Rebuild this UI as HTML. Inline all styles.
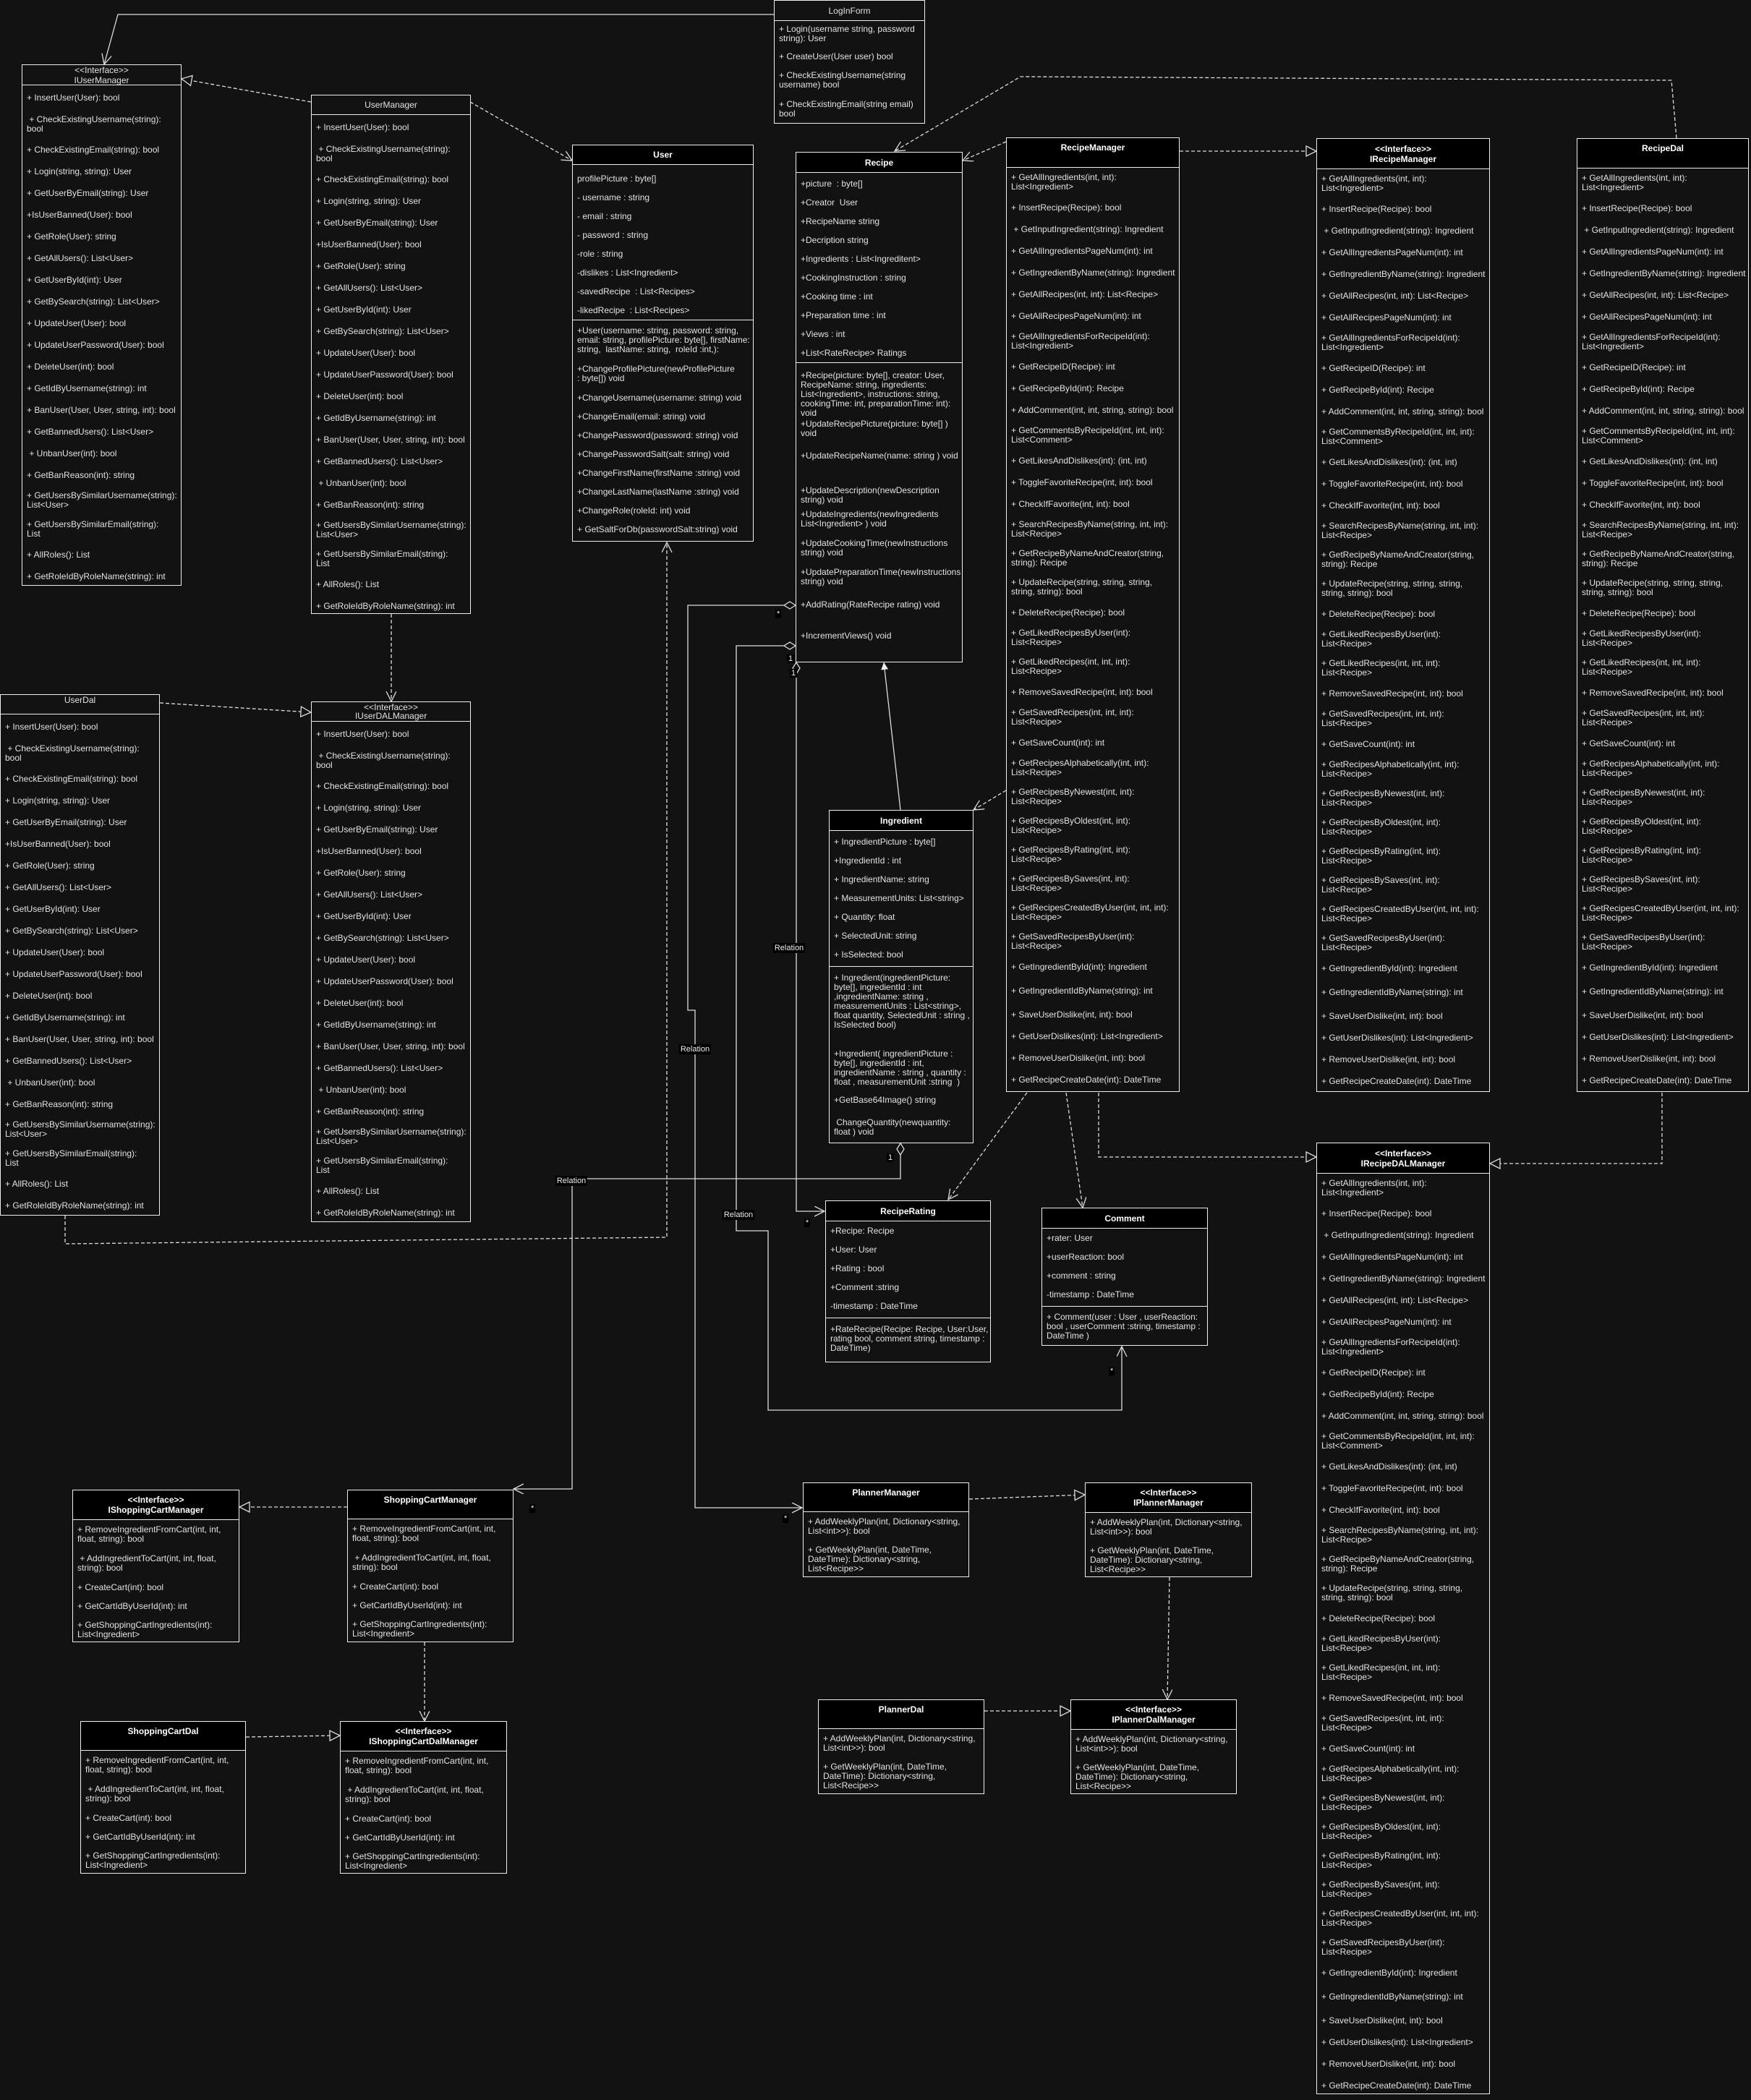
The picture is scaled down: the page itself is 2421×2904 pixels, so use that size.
<!DOCTYPE html>
<html><head><meta charset="utf-8"><style>
html,body{margin:0;padding:0;background:#121212;}
#c{position:relative;width:2421px;height:2904px;overflow:hidden;background:#121212;font-family:"Liberation Sans",Arial,sans-serif;font-size:12px;color:#e2e2e2;}
.b{position:absolute;border:1px solid #eee;background:#121212;box-sizing:border-box;display:flex;flex-direction:column;}
.h{border-bottom:1px solid #eee;display:flex;align-items:center;justify-content:center;text-align:center;line-height:14px;flex:none;}
.k{background:#000;font-weight:bold;color:#fff;}
.t{align-items:flex-start;padding-top:6px;box-sizing:border-box;}
.r{height:30px;display:flex;align-items:center;padding:0 6px;white-space:nowrap;line-height:13px;flex:none;}
.d{height:40px;}
.s{height:26px;}
.sep{border-top:1px solid #eee;flex:none;}
.lb{position:absolute;background:#000;color:#eee;font-size:11px;padding:1px 2px;transform:translate(-50%,-50%);}
.m{position:absolute;background:#000;color:#eee;font-size:11px;padding:0 2px;}
svg{position:absolute;left:0;top:0;}
</style></head><body><div id="c">

<!-- LoginForm -->
<div class="b" style="left:1070px;top:0;width:209px;height:171px">
<div class="h" style="height:27px">LogInForm</div>
<div class="r" style="height:36px"><span>+ Login(username string, password<br>string): User</span></div>
<div class="r" style="height:26px">+ CreateUser(User user) bool</div>
<div class="r d"><span>+ CheckExistingUsername(string<br>username) bool</span></div>
<div class="r d"><span>+ CheckExistingEmail(string email)<br>bool</span></div>
</div>

<!-- IUserManager -->
<div class="b" style="left:30px;top:89px;width:221px;height:721px">
<div class="h" style="height:27px"><span>&lt;&lt;Interface&gt;&gt;<br>IUserManager</span></div>
<div class="r" style="height:34px">+ InsertUser(User): bool</div>
<div class="r d"><span>&nbsp;+ CheckExistingUsername(string):<br>bool</span></div>
<div class="r">+ CheckExistingEmail(string): bool</div>
<div class="r">+ Login(string, string): User</div>
<div class="r">+ GetUserByEmail(string): User</div>
<div class="r">+IsUserBanned(User): bool</div>
<div class="r">+ GetRole(User): string</div>
<div class="r">+ GetAllUsers(): List&lt;User&gt;</div>
<div class="r">+ GetUserById(int): User</div>
<div class="r">+ GetBySearch(string): List&lt;User&gt;</div>
<div class="r">+ UpdateUser(User): bool</div>
<div class="r">+ UpdateUserPassword(User): bool</div>
<div class="r">+ DeleteUser(int): bool</div>
<div class="r">+ GetIdByUsername(string): int</div>
<div class="r">+ BanUser(User, User, string, int): bool</div>
<div class="r">+ GetBannedUsers(): List&lt;User&gt;</div>
<div class="r">&nbsp;+ UnbanUser(int): bool</div>
<div class="r">+ GetBanReason(int): string</div>
<div class="r d"><span>+ GetUsersBySimilarUsername(string):<br>List&lt;User&gt;</span></div>
<div class="r d"><span>+ GetUsersBySimilarEmail(string):<br>List</span></div>
<div class="r">+ AllRoles(): List</div>
<div class="r">+ GetRoleIdByRoleName(string): int</div>
</div>

<!-- UserManager -->
<div class="b" style="left:430px;top:131px;width:221px;height:718px">
<div class="h" style="height:26px">UserManager</div>
<div class="r" style="height:34px">+ InsertUser(User): bool</div>
<div class="r d"><span>&nbsp;+ CheckExistingUsername(string):<br>bool</span></div>
<div class="r">+ CheckExistingEmail(string): bool</div>
<div class="r">+ Login(string, string): User</div>
<div class="r">+ GetUserByEmail(string): User</div>
<div class="r">+IsUserBanned(User): bool</div>
<div class="r">+ GetRole(User): string</div>
<div class="r">+ GetAllUsers(): List&lt;User&gt;</div>
<div class="r">+ GetUserById(int): User</div>
<div class="r">+ GetBySearch(string): List&lt;User&gt;</div>
<div class="r">+ UpdateUser(User): bool</div>
<div class="r">+ UpdateUserPassword(User): bool</div>
<div class="r">+ DeleteUser(int): bool</div>
<div class="r">+ GetIdByUsername(string): int</div>
<div class="r">+ BanUser(User, User, string, int): bool</div>
<div class="r">+ GetBannedUsers(): List&lt;User&gt;</div>
<div class="r">&nbsp;+ UnbanUser(int): bool</div>
<div class="r">+ GetBanReason(int): string</div>
<div class="r d"><span>+ GetUsersBySimilarUsername(string):<br>List&lt;User&gt;</span></div>
<div class="r d"><span>+ GetUsersBySimilarEmail(string):<br>List</span></div>
<div class="r">+ AllRoles(): List</div>
<div class="r">+ GetRoleIdByRoleName(string): int</div>
</div>

<!-- UserDal -->
<div class="b" style="left:0;top:960px;width:221px;height:721px">
<div class="h" style="height:26px;align-items:flex-start">UserDal</div>
<div class="r" style="height:34px">+ InsertUser(User): bool</div>
<div class="r d"><span>&nbsp;+ CheckExistingUsername(string):<br>bool</span></div>
<div class="r">+ CheckExistingEmail(string): bool</div>
<div class="r">+ Login(string, string): User</div>
<div class="r">+ GetUserByEmail(string): User</div>
<div class="r">+IsUserBanned(User): bool</div>
<div class="r">+ GetRole(User): string</div>
<div class="r">+ GetAllUsers(): List&lt;User&gt;</div>
<div class="r">+ GetUserById(int): User</div>
<div class="r">+ GetBySearch(string): List&lt;User&gt;</div>
<div class="r">+ UpdateUser(User): bool</div>
<div class="r">+ UpdateUserPassword(User): bool</div>
<div class="r">+ DeleteUser(int): bool</div>
<div class="r">+ GetIdByUsername(string): int</div>
<div class="r">+ BanUser(User, User, string, int): bool</div>
<div class="r">+ GetBannedUsers(): List&lt;User&gt;</div>
<div class="r">&nbsp;+ UnbanUser(int): bool</div>
<div class="r">+ GetBanReason(int): string</div>
<div class="r d"><span>+ GetUsersBySimilarUsername(string):<br>List&lt;User&gt;</span></div>
<div class="r d"><span>+ GetUsersBySimilarEmail(string):<br>List</span></div>
<div class="r">+ AllRoles(): List</div>
<div class="r">+ GetRoleIdByRoleName(string): int</div>
</div>

<!-- IUserDALManager -->
<div class="b" style="left:430px;top:970px;width:221px;height:720px">
<div class="h" style="height:26px;line-height:12px"><span>&lt;&lt;Interface&gt;&gt;<br>IUserDALManager</span></div>
<div class="r" style="height:34px">+ InsertUser(User): bool</div>
<div class="r d"><span>&nbsp;+ CheckExistingUsername(string):<br>bool</span></div>
<div class="r">+ CheckExistingEmail(string): bool</div>
<div class="r">+ Login(string, string): User</div>
<div class="r">+ GetUserByEmail(string): User</div>
<div class="r">+IsUserBanned(User): bool</div>
<div class="r">+ GetRole(User): string</div>
<div class="r">+ GetAllUsers(): List&lt;User&gt;</div>
<div class="r">+ GetUserById(int): User</div>
<div class="r">+ GetBySearch(string): List&lt;User&gt;</div>
<div class="r">+ UpdateUser(User): bool</div>
<div class="r">+ UpdateUserPassword(User): bool</div>
<div class="r">+ DeleteUser(int): bool</div>
<div class="r">+ GetIdByUsername(string): int</div>
<div class="r">+ BanUser(User, User, string, int): bool</div>
<div class="r">+ GetBannedUsers(): List&lt;User&gt;</div>
<div class="r">&nbsp;+ UnbanUser(int): bool</div>
<div class="r">+ GetBanReason(int): string</div>
<div class="r d"><span>+ GetUsersBySimilarUsername(string):<br>List&lt;User&gt;</span></div>
<div class="r d"><span>+ GetUsersBySimilarEmail(string):<br>List</span></div>
<div class="r">+ AllRoles(): List</div>
<div class="r">+ GetRoleIdByRoleName(string): int</div>
</div>

<!-- User -->
<div class="b" style="left:791px;top:200px;width:251px;height:549px">
<div class="h k" style="height:26px">User</div>
<div style="height:6px;flex:none"></div>
<div class="r s">profilePicture : byte[]</div>
<div class="r s">- username : string</div>
<div class="r s">- email : string</div>
<div class="r s">- password : string</div>
<div class="r s">-role : string</div>
<div class="r s">-dislikes : List&lt;Ingredient&gt;</div>
<div class="r s">-savedRecipe &nbsp;: List&lt;Recipes&gt;</div>
<div class="r s">-likedRecipe &nbsp;: List&lt;Recipes&gt;</div>
<div class="sep" style="margin-top:0"></div>
<div class="r" style="height:54px"><span>+User(username: string, password: string,<br>email: string, profilePicture: byte[], firstName:<br>string, &nbsp;lastName: string, &nbsp;roleId :int,):</span></div>
<div class="r" style="height:40px"><span>+ChangeProfilePicture(newProfilePicture<br>: byte[]) void</span></div>
<div class="r s">+ChangeUsername(username: string) void</div>
<div class="r s">+ChangeEmail(email: string) void</div>
<div class="r s">+ChangePassword(password: string) void</div>
<div class="r s">+ChangePasswordSalt(salt: string) void</div>
<div class="r s">+ChangeFirstName(firstName :string) void</div>
<div class="r s">+ChangeLastName(lastName :string) void</div>
<div class="r s">+ChangeRole(roleId: int) void</div>
<div class="r s">+ GetSaltForDb(passwordSalt:string) void</div>
</div>

<!-- Recipe -->
<div class="b" style="left:1100px;top:210px;width:231px;height:706px">
<div class="h k" style="height:27px">Recipe</div>
<div style="height:2px;flex:none"></div>
<div class="r s">+picture &nbsp;: byte[]</div>
<div class="r s">+Creator &nbsp;User</div>
<div class="r s">+RecipeName string</div>
<div class="r s">+Decription string</div>
<div class="r s">+Ingredients : List&lt;Ingreditent&gt;</div>
<div class="r s">+CookingInstruction : string</div>
<div class="r s">+Cooking time : int</div>
<div class="r s">+Preparation time : int</div>
<div class="r s">+Views : int</div>
<div class="r s">+List&lt;RateRecipe&gt; Ratings</div>
<div class="sep" style="margin-top:0"></div>
<div class="r" style="height:76px;align-items:flex-end"><span>+Recipe(picture: byte[], creator: User,<br>RecipeName: string, ingredients:<br>List&lt;Ingredient&gt;, instructions: string,<br>cookingTime: int, preparationTime: int):<br>void</span></div>
<div class="r" style="height:30px"><span>+UpdateRecipePicture(picture: byte[] )<br>void</span></div>
<div class="r" style="height:44px">+UpdateRecipeName(name: string ) void</div>
<div class="r" style="height:46px;align-items:flex-end"><span>+UpdateDescription(newDescription<br>string) void</span></div>
<div class="r d"><span>+UpdateIngredients(newIngredients<br>List&lt;Ingredient&gt; ) void</span></div>
<div class="r d"><span>+UpdateCookingTime(newInstructions<br>string) void</span></div>
<div class="r d"><span>+UpdatePreparationTime(newInstructions<br>string) void</span></div>
<div class="r" style="height:36px">+AddRating(RateRecipe rating) void</div>
<div class="r" style="height:50px">+IncrementViews() void</div>
</div>

<!-- RecipeManager -->
<div class="b" style="left:1391px;top:190px;width:240px;height:1320px">
<div class="h k t" style="height:41px">RecipeManager</div>
<div class="r d"><span>+ GetAllIngredients(int, int):<br>List&lt;Ingredient&gt;</span></div>
<div class="r">+ InsertRecipe(Recipe): bool</div>
<div class="r">&nbsp;+ GetInputIngredient(string): Ingredient</div>
<div class="r">+ GetAllIngredientsPageNum(int): int</div>
<div class="r">+ GetIngredientByName(string): Ingredient</div>
<div class="r">+ GetAllRecipes(int, int): List&lt;Recipe&gt;</div>
<div class="r">+ GetAllRecipesPageNum(int): int</div>
<div class="r d"><span>+ GetAllIngredientsForRecipeId(int):<br>List&lt;Ingredient&gt;</span></div>
<div class="r">+ GetRecipeID(Recipe): int</div>
<div class="r">+ GetRecipeById(int): Recipe</div>
<div class="r">+ AddComment(int, int, string, string): bool</div>
<div class="r d"><span>+ GetCommentsByRecipeId(int, int, int):<br>List&lt;Comment&gt;</span></div>
<div class="r">+ GetLikesAndDislikes(int): (int, int)</div>
<div class="r">+ ToggleFavoriteRecipe(int, int): bool</div>
<div class="r">+ CheckIfFavorite(int, int): bool</div>
<div class="r d"><span>+ SearchRecipesByName(string, int, int):<br>List&lt;Recipe&gt;</span></div>
<div class="r d"><span>+ GetRecipeByNameAndCreator(string,<br>string): Recipe</span></div>
<div class="r d"><span>+ UpdateRecipe(string, string, string,<br>string, string): bool</span></div>
<div class="r">+ DeleteRecipe(Recipe): bool</div>
<div class="r d"><span>+ GetLikedRecipesByUser(int):<br>List&lt;Recipe&gt;</span></div>
<div class="r d"><span>+ GetLikedRecipes(int, int, int):<br>List&lt;Recipe&gt;</span></div>
<div class="r">+ RemoveSavedRecipe(int, int): bool</div>
<div class="r d"><span>+ GetSavedRecipes(int, int, int):<br>List&lt;Recipe&gt;</span></div>
<div class="r">+ GetSaveCount(int): int</div>
<div class="r d"><span>+ GetRecipesAlphabetically(int, int):<br>List&lt;Recipe&gt;</span></div>
<div class="r d"><span>+ GetRecipesByNewest(int, int):<br>List&lt;Recipe&gt;</span></div>
<div class="r d"><span>+ GetRecipesByOldest(int, int):<br>List&lt;Recipe&gt;</span></div>
<div class="r d"><span>+ GetRecipesByRating(int, int):<br>List&lt;Recipe&gt;</span></div>
<div class="r d"><span>+ GetRecipesBySaves(int, int):<br>List&lt;Recipe&gt;</span></div>
<div class="r d"><span>+ GetRecipesCreatedByUser(int, int, int):<br>List&lt;Recipe&gt;</span></div>
<div class="r d"><span>+ GetSavedRecipesByUser(int):<br>List&lt;Recipe&gt;</span></div>
<div class="r">+ GetIngredientById(int): Ingredient</div>
<div class="r" style="height:36px">+ GetIngredientIdByName(string): int</div>
<div class="r">+ SaveUserDislike(int, int): bool</div>
<div class="r">+ GetUserDislikes(int): List&lt;Ingredient&gt;</div>
<div class="r">+ RemoveUserDislike(int, int): bool</div>
<div class="r">+ GetRecipeCreateDate(int): DateTime</div>
</div>

<!-- IRecipeManager -->
<div class="b" style="left:1820px;top:191px;width:240px;height:1319px">
<div class="h k" style="height:41px"><span>&lt;&lt;Interface&gt;&gt;<br>IRecipeManager</span></div>
<div class="r d"><span>+ GetAllIngredients(int, int):<br>List&lt;Ingredient&gt;</span></div>
<div class="r">+ InsertRecipe(Recipe): bool</div>
<div class="r">&nbsp;+ GetInputIngredient(string): Ingredient</div>
<div class="r">+ GetAllIngredientsPageNum(int): int</div>
<div class="r">+ GetIngredientByName(string): Ingredient</div>
<div class="r">+ GetAllRecipes(int, int): List&lt;Recipe&gt;</div>
<div class="r">+ GetAllRecipesPageNum(int): int</div>
<div class="r d"><span>+ GetAllIngredientsForRecipeId(int):<br>List&lt;Ingredient&gt;</span></div>
<div class="r">+ GetRecipeID(Recipe): int</div>
<div class="r">+ GetRecipeById(int): Recipe</div>
<div class="r">+ AddComment(int, int, string, string): bool</div>
<div class="r d"><span>+ GetCommentsByRecipeId(int, int, int):<br>List&lt;Comment&gt;</span></div>
<div class="r">+ GetLikesAndDislikes(int): (int, int)</div>
<div class="r">+ ToggleFavoriteRecipe(int, int): bool</div>
<div class="r">+ CheckIfFavorite(int, int): bool</div>
<div class="r d"><span>+ SearchRecipesByName(string, int, int):<br>List&lt;Recipe&gt;</span></div>
<div class="r d"><span>+ GetRecipeByNameAndCreator(string,<br>string): Recipe</span></div>
<div class="r d"><span>+ UpdateRecipe(string, string, string,<br>string, string): bool</span></div>
<div class="r">+ DeleteRecipe(Recipe): bool</div>
<div class="r d"><span>+ GetLikedRecipesByUser(int):<br>List&lt;Recipe&gt;</span></div>
<div class="r d"><span>+ GetLikedRecipes(int, int, int):<br>List&lt;Recipe&gt;</span></div>
<div class="r">+ RemoveSavedRecipe(int, int): bool</div>
<div class="r d"><span>+ GetSavedRecipes(int, int, int):<br>List&lt;Recipe&gt;</span></div>
<div class="r">+ GetSaveCount(int): int</div>
<div class="r d"><span>+ GetRecipesAlphabetically(int, int):<br>List&lt;Recipe&gt;</span></div>
<div class="r d"><span>+ GetRecipesByNewest(int, int):<br>List&lt;Recipe&gt;</span></div>
<div class="r d"><span>+ GetRecipesByOldest(int, int):<br>List&lt;Recipe&gt;</span></div>
<div class="r d"><span>+ GetRecipesByRating(int, int):<br>List&lt;Recipe&gt;</span></div>
<div class="r d"><span>+ GetRecipesBySaves(int, int):<br>List&lt;Recipe&gt;</span></div>
<div class="r d"><span>+ GetRecipesCreatedByUser(int, int, int):<br>List&lt;Recipe&gt;</span></div>
<div class="r d"><span>+ GetSavedRecipesByUser(int):<br>List&lt;Recipe&gt;</span></div>
<div class="r">+ GetIngredientById(int): Ingredient</div>
<div class="r" style="height:36px">+ GetIngredientIdByName(string): int</div>
<div class="r">+ SaveUserDislike(int, int): bool</div>
<div class="r">+ GetUserDislikes(int): List&lt;Ingredient&gt;</div>
<div class="r">+ RemoveUserDislike(int, int): bool</div>
<div class="r">+ GetRecipeCreateDate(int): DateTime</div>
</div>

<!-- RecipeDal -->
<div class="b" style="left:2180px;top:191px;width:238px;height:1319px">
<div class="h k t" style="height:41px">RecipeDal</div>
<div class="r d"><span>+ GetAllIngredients(int, int):<br>List&lt;Ingredient&gt;</span></div>
<div class="r">+ InsertRecipe(Recipe): bool</div>
<div class="r">&nbsp;+ GetInputIngredient(string): Ingredient</div>
<div class="r">+ GetAllIngredientsPageNum(int): int</div>
<div class="r">+ GetIngredientByName(string): Ingredient</div>
<div class="r">+ GetAllRecipes(int, int): List&lt;Recipe&gt;</div>
<div class="r">+ GetAllRecipesPageNum(int): int</div>
<div class="r d"><span>+ GetAllIngredientsForRecipeId(int):<br>List&lt;Ingredient&gt;</span></div>
<div class="r">+ GetRecipeID(Recipe): int</div>
<div class="r">+ GetRecipeById(int): Recipe</div>
<div class="r">+ AddComment(int, int, string, string): bool</div>
<div class="r d"><span>+ GetCommentsByRecipeId(int, int, int):<br>List&lt;Comment&gt;</span></div>
<div class="r">+ GetLikesAndDislikes(int): (int, int)</div>
<div class="r">+ ToggleFavoriteRecipe(int, int): bool</div>
<div class="r">+ CheckIfFavorite(int, int): bool</div>
<div class="r d"><span>+ SearchRecipesByName(string, int, int):<br>List&lt;Recipe&gt;</span></div>
<div class="r d"><span>+ GetRecipeByNameAndCreator(string,<br>string): Recipe</span></div>
<div class="r d"><span>+ UpdateRecipe(string, string, string,<br>string, string): bool</span></div>
<div class="r">+ DeleteRecipe(Recipe): bool</div>
<div class="r d"><span>+ GetLikedRecipesByUser(int):<br>List&lt;Recipe&gt;</span></div>
<div class="r d"><span>+ GetLikedRecipes(int, int, int):<br>List&lt;Recipe&gt;</span></div>
<div class="r">+ RemoveSavedRecipe(int, int): bool</div>
<div class="r d"><span>+ GetSavedRecipes(int, int, int):<br>List&lt;Recipe&gt;</span></div>
<div class="r">+ GetSaveCount(int): int</div>
<div class="r d"><span>+ GetRecipesAlphabetically(int, int):<br>List&lt;Recipe&gt;</span></div>
<div class="r d"><span>+ GetRecipesByNewest(int, int):<br>List&lt;Recipe&gt;</span></div>
<div class="r d"><span>+ GetRecipesByOldest(int, int):<br>List&lt;Recipe&gt;</span></div>
<div class="r d"><span>+ GetRecipesByRating(int, int):<br>List&lt;Recipe&gt;</span></div>
<div class="r d"><span>+ GetRecipesBySaves(int, int):<br>List&lt;Recipe&gt;</span></div>
<div class="r d"><span>+ GetRecipesCreatedByUser(int, int, int):<br>List&lt;Recipe&gt;</span></div>
<div class="r d"><span>+ GetSavedRecipesByUser(int):<br>List&lt;Recipe&gt;</span></div>
<div class="r">+ GetIngredientById(int): Ingredient</div>
<div class="r" style="height:36px">+ GetIngredientIdByName(string): int</div>
<div class="r">+ SaveUserDislike(int, int): bool</div>
<div class="r">+ GetUserDislikes(int): List&lt;Ingredient&gt;</div>
<div class="r">+ RemoveUserDislike(int, int): bool</div>
<div class="r">+ GetRecipeCreateDate(int): DateTime</div>
</div>

<!-- IRecipeDALManager -->
<div class="b" style="left:1820px;top:1580px;width:240px;height:1316px">
<div class="h k" style="height:41px"><span>&lt;&lt;Interface&gt;&gt;<br>IRecipeDALManager</span></div>
<div class="r d"><span>+ GetAllIngredients(int, int):<br>List&lt;Ingredient&gt;</span></div>
<div class="r">+ InsertRecipe(Recipe): bool</div>
<div class="r">&nbsp;+ GetInputIngredient(string): Ingredient</div>
<div class="r">+ GetAllIngredientsPageNum(int): int</div>
<div class="r">+ GetIngredientByName(string): Ingredient</div>
<div class="r">+ GetAllRecipes(int, int): List&lt;Recipe&gt;</div>
<div class="r">+ GetAllRecipesPageNum(int): int</div>
<div class="r d"><span>+ GetAllIngredientsForRecipeId(int):<br>List&lt;Ingredient&gt;</span></div>
<div class="r">+ GetRecipeID(Recipe): int</div>
<div class="r">+ GetRecipeById(int): Recipe</div>
<div class="r">+ AddComment(int, int, string, string): bool</div>
<div class="r d"><span>+ GetCommentsByRecipeId(int, int, int):<br>List&lt;Comment&gt;</span></div>
<div class="r">+ GetLikesAndDislikes(int): (int, int)</div>
<div class="r">+ ToggleFavoriteRecipe(int, int): bool</div>
<div class="r">+ CheckIfFavorite(int, int): bool</div>
<div class="r d"><span>+ SearchRecipesByName(string, int, int):<br>List&lt;Recipe&gt;</span></div>
<div class="r d"><span>+ GetRecipeByNameAndCreator(string,<br>string): Recipe</span></div>
<div class="r d"><span>+ UpdateRecipe(string, string, string,<br>string, string): bool</span></div>
<div class="r">+ DeleteRecipe(Recipe): bool</div>
<div class="r d"><span>+ GetLikedRecipesByUser(int):<br>List&lt;Recipe&gt;</span></div>
<div class="r d"><span>+ GetLikedRecipes(int, int, int):<br>List&lt;Recipe&gt;</span></div>
<div class="r">+ RemoveSavedRecipe(int, int): bool</div>
<div class="r d"><span>+ GetSavedRecipes(int, int, int):<br>List&lt;Recipe&gt;</span></div>
<div class="r">+ GetSaveCount(int): int</div>
<div class="r d"><span>+ GetRecipesAlphabetically(int, int):<br>List&lt;Recipe&gt;</span></div>
<div class="r d"><span>+ GetRecipesByNewest(int, int):<br>List&lt;Recipe&gt;</span></div>
<div class="r d"><span>+ GetRecipesByOldest(int, int):<br>List&lt;Recipe&gt;</span></div>
<div class="r d"><span>+ GetRecipesByRating(int, int):<br>List&lt;Recipe&gt;</span></div>
<div class="r d"><span>+ GetRecipesBySaves(int, int):<br>List&lt;Recipe&gt;</span></div>
<div class="r d"><span>+ GetRecipesCreatedByUser(int, int, int):<br>List&lt;Recipe&gt;</span></div>
<div class="r d"><span>+ GetSavedRecipesByUser(int):<br>List&lt;Recipe&gt;</span></div>
<div class="r">+ GetIngredientById(int): Ingredient</div>
<div class="r" style="height:36px">+ GetIngredientIdByName(string): int</div>
<div class="r">+ SaveUserDislike(int, int): bool</div>
<div class="r">+ GetUserDislikes(int): List&lt;Ingredient&gt;</div>
<div class="r">+ RemoveUserDislike(int, int): bool</div>
<div class="r">+ GetRecipeCreateDate(int): DateTime</div>
</div>

<!-- Ingredient -->
<div class="b" style="left:1146px;top:1120px;width:200px;height:461px">
<div class="h k" style="height:27px">Ingredient</div>
<div style="height:2px;flex:none"></div>
<div class="r s">+ IngredientPicture : byte[]</div>
<div class="r s">+IngredientId : int</div>
<div class="r s">+ IngredientName: string</div>
<div class="r s">+ MeasurementUnits: List&lt;string&gt;</div>
<div class="r s">+ Quantity: float</div>
<div class="r s">+ SelectedUnit: string</div>
<div class="r s">+ IsSelected: bool</div>
<div class="sep" style="margin-top:3px"></div>
<div class="r" style="height:96px"><span>+ Ingredient(ingredientPicture:<br>byte[], ingredientId : int<br>,ingredientName: string ,<br>measurementUnits : List&lt;string&gt;,<br>float quantity, SelectedUnit : string ,<br>IsSelected bool)</span></div>
<div class="r" style="height:70px;align-items:flex-end"><span>+Ingredient( ingredientPicture :<br>byte[], ingredientId : int,<br>ingredientName : string , quantity :<br>float , measurementUnit :string &nbsp;)</span></div>
<div class="r" style="height:36px">+GetBase64Image() string</div>
<div class="r d"><span>&nbsp;ChangeQuantity(newquantity:<br>float ) void</span></div>
</div>

<!-- RecipeRating -->
<div class="b" style="left:1141px;top:1660px;width:229px;height:224px">
<div class="h k" style="height:27px">RecipeRating</div>
<div class="r s">+Recipe: Recipe</div>
<div class="r s">+User: User</div>
<div class="r s">+Rating : bool</div>
<div class="r s">+Comment :string</div>
<div class="r s">-timestamp : DateTime</div>
<div class="sep" style="margin-top:3px"></div>
<div class="r" style="height:56px"><span>+RateRecipe(Recipe: Recipe, User:User,<br>rating bool, comment string, timestamp :<br>DateTime)</span></div>
</div>

<!-- Comment -->
<div class="b" style="left:1440px;top:1670px;width:230px;height:191px">
<div class="h k" style="height:27px">Comment</div>
<div class="r s">+rater: User</div>
<div class="r s">+userReaction: bool</div>
<div class="r s">+comment : string</div>
<div class="r s">-timestamp : DateTime</div>
<div class="sep" style="margin-top:3px"></div>
<div class="r" style="height:54px"><span>+ Comment(user : User , userReaction:<br>bool , userComment :string, timestamp :<br>DateTime )</span></div>
</div>

<!-- IShoppingCartManager -->
<div class="b" style="left:100px;top:2060px;width:231px;height:211px">
<div class="h k" style="height:40px"><span>&lt;&lt;Interface&gt;&gt;<br>IShoppingCartManager</span></div>
<div class="r d"><span>+ RemoveIngredientFromCart(int, int,<br>float, string): bool</span></div>
<div class="r d"><span>&nbsp;+ AddIngredientToCart(int, int, float,<br>string): bool</span></div>
<div class="r s">+ CreateCart(int): bool</div>
<div class="r s">+ GetCartIdByUserId(int): int</div>
<div class="r d"><span>+ GetShoppingCartIngredients(int):<br>List&lt;Ingredient&gt;</span></div>
</div>

<!-- ShoppingCartManager -->
<div class="b" style="left:480px;top:2060px;width:230px;height:211px">
<div class="h k t" style="height:40px">ShoppingCartManager</div>
<div class="r d"><span>+ RemoveIngredientFromCart(int, int,<br>float, string): bool</span></div>
<div class="r d"><span>&nbsp;+ AddIngredientToCart(int, int, float,<br>string): bool</span></div>
<div class="r s">+ CreateCart(int): bool</div>
<div class="r s">+ GetCartIdByUserId(int): int</div>
<div class="r d"><span>+ GetShoppingCartIngredients(int):<br>List&lt;Ingredient&gt;</span></div>
</div>

<!-- ShoppingCartDal -->
<div class="b" style="left:111px;top:2380px;width:229px;height:211px">
<div class="h k t" style="height:40px">ShoppingCartDal</div>
<div class="r d"><span>+ RemoveIngredientFromCart(int, int,<br>float, string): bool</span></div>
<div class="r d"><span>&nbsp;+ AddIngredientToCart(int, int, float,<br>string): bool</span></div>
<div class="r s">+ CreateCart(int): bool</div>
<div class="r s">+ GetCartIdByUserId(int): int</div>
<div class="r d"><span>+ GetShoppingCartIngredients(int):<br>List&lt;Ingredient&gt;</span></div>
</div>

<!-- IShoppingCartDalManager -->
<div class="b" style="left:470px;top:2380px;width:231px;height:211px">
<div class="h k" style="height:40px"><span>&lt;&lt;Interface&gt;&gt;<br>IShoppingCartDalManager</span></div>
<div class="r d"><span>+ RemoveIngredientFromCart(int, int,<br>float, string): bool</span></div>
<div class="r d"><span>&nbsp;+ AddIngredientToCart(int, int, float,<br>string): bool</span></div>
<div class="r s">+ CreateCart(int): bool</div>
<div class="r s">+ GetCartIdByUserId(int): int</div>
<div class="r d"><span>+ GetShoppingCartIngredients(int):<br>List&lt;Ingredient&gt;</span></div>
</div>

<!-- PlannerManager -->
<div class="b" style="left:1110px;top:2050px;width:230px;height:131px">
<div class="h k t" style="height:40px">PlannerManager</div>
<div class="r d"><span>+ AddWeeklyPlan(int, Dictionary&lt;string,<br>List&lt;int&gt;&gt;): bool</span></div>
<div class="r" style="height:50px"><span>+ GetWeeklyPlan(int, DateTime,<br>DateTime): Dictionary&lt;string,<br>List&lt;Recipe&gt;&gt;</span></div>
</div>

<!-- IPlannerManager -->
<div class="b" style="left:1500px;top:2050px;width:231px;height:131px">
<div class="h k" style="height:40px"><span>&lt;&lt;Interface&gt;&gt;<br>IPlannerManager</span></div>
<div class="r d"><span>+ AddWeeklyPlan(int, Dictionary&lt;string,<br>List&lt;int&gt;&gt;): bool</span></div>
<div class="r" style="height:50px"><span>+ GetWeeklyPlan(int, DateTime,<br>DateTime): Dictionary&lt;string,<br>List&lt;Recipe&gt;&gt;</span></div>
</div>

<!-- PlannerDal -->
<div class="b" style="left:1131px;top:2350px;width:230px;height:131px">
<div class="h k t" style="height:40px">PlannerDal</div>
<div class="r d"><span>+ AddWeeklyPlan(int, Dictionary&lt;string,<br>List&lt;int&gt;&gt;): bool</span></div>
<div class="r" style="height:50px"><span>+ GetWeeklyPlan(int, DateTime,<br>DateTime): Dictionary&lt;string,<br>List&lt;Recipe&gt;&gt;</span></div>
</div>

<!-- IPlannerDalManager -->
<div class="b" style="left:1480px;top:2350px;width:230px;height:131px">
<div class="h k" style="height:40px"><span>&lt;&lt;Interface&gt;&gt;<br>IPlannerDalManager</span></div>
<div class="r d"><span>+ AddWeeklyPlan(int, Dictionary&lt;string,<br>List&lt;int&gt;&gt;): bool</span></div>
<div class="r" style="height:50px"><span>+ GetWeeklyPlan(int, DateTime,<br>DateTime): Dictionary&lt;string,<br>List&lt;Recipe&gt;&gt;</span></div>
</div>

<svg width="2421" height="2904" viewBox="0 0 2421 2904">
<defs>
<marker id="o" markerUnits="userSpaceOnUse" markerWidth="20" markerHeight="20" refX="14" refY="7" orient="auto"><path d="M0,0 L14,7 L0,14" fill="none" stroke="#ddd" stroke-width="1.3"/></marker>
<marker id="tr" markerUnits="userSpaceOnUse" markerWidth="20" markerHeight="20" refX="15" refY="8" orient="auto"><path d="M1,1 L15,8 L1,15 Z" fill="#121212" stroke="#ddd" stroke-width="1.3"/></marker>
<marker id="f" markerUnits="userSpaceOnUse" markerWidth="14" markerHeight="14" refX="10" refY="5" orient="auto"><path d="M0,0 L10,5 L0,10 Z" fill="#eee"/></marker>
<marker id="dm" markerUnits="userSpaceOnUse" markerWidth="24" markerHeight="14" refX="1" refY="6" orient="auto"><path d="M1,6 L9,1 L17,6 L9,11 Z" fill="#121212" stroke="#ddd" stroke-width="1.3"/></marker>
</defs>
<g fill="none" stroke="#ddd" stroke-width="1.3">
<path d="M1070 20 H163 L144 89" marker-end="url(#o)"/>
<path d="M1245 1120 L1222 916" marker-end="url(#f)"/>
<path d="M1100 837 H951 V1397 H961 V2085 H1109" marker-start="url(#dm)" marker-end="url(#o)"/>
<path d="M1100 893 H1018 V1702 H1062 V1950 H1551 V1862" marker-start="url(#dm)" marker-end="url(#o)"/>
<path d="M1101 916 V1675 H1140" marker-start="url(#dm)" marker-end="url(#o)"/>
<path d="M1245 1581 V1630 H791 V2059 H710" marker-start="url(#dm)" marker-end="url(#o)"/>
</g>
<g fill="none" stroke="#ddd" stroke-width="1.3" stroke-dasharray="5 3">
<path d="M430 141 L251 109" marker-end="url(#tr)"/>
<path d="M650 141 L791 222" marker-end="url(#o)"/>
<path d="M541 849 V970" marker-end="url(#o)"/>
<path d="M221 972 L430 985" marker-end="url(#tr)"/>
<path d="M90 1681 V1720 L922 1711 V750" marker-end="url(#o)"/>
<path d="M2318 191 L2311 111 L1411 106 L1237 209" marker-end="url(#o)"/>
<path d="M1391 196 L1331 222" marker-end="url(#o)"/>
<path d="M1631 209 H1820" marker-end="url(#tr)"/>
<path d="M1391 1093 L1346 1120" marker-end="url(#o)"/>
<path d="M1420 1511 L1311 1659" marker-end="url(#o)"/>
<path d="M1474 1511 L1497 1670" marker-end="url(#o)"/>
<path d="M1519 1511 V1600 H1820" marker-end="url(#tr)"/>
<path d="M2298 1511 V1609 H2060" marker-end="url(#tr)"/>
<path d="M480 2084 H331" marker-end="url(#tr)"/>
<path d="M587 2271 V2380" marker-end="url(#o)"/>
<path d="M340 2402 L470 2400" marker-end="url(#tr)"/>
<path d="M1340 2073 L1500 2067" marker-end="url(#tr)"/>
<path d="M1617 2181 L1614 2350" marker-end="url(#o)"/>
<path d="M1361 2366 H1480" marker-end="url(#tr)"/>
</g>
</svg>

<div class="lb" style="left:790px;top:1633px">Relation</div>
<div class="lb" style="left:961px;top:1451px">Relation</div>
<div class="lb" style="left:1021px;top:1680px">Relation</div>
<div class="lb" style="left:1091px;top:1311px">Relation</div>
<div class="m" style="left:1072px;top:843px">*</div>
<div class="m" style="left:1088px;top:905px">1</div>
<div class="m" style="left:1092px;top:925px">1</div>
<div class="m" style="left:1112px;top:1685px">*</div>
<div class="m" style="left:1533px;top:1890px">*</div>
<div class="m" style="left:1226px;top:1595px">1</div>
<div class="m" style="left:732px;top:2080px">*</div>
<div class="m" style="left:1082px;top:2094px">*</div>

</div></body></html>
